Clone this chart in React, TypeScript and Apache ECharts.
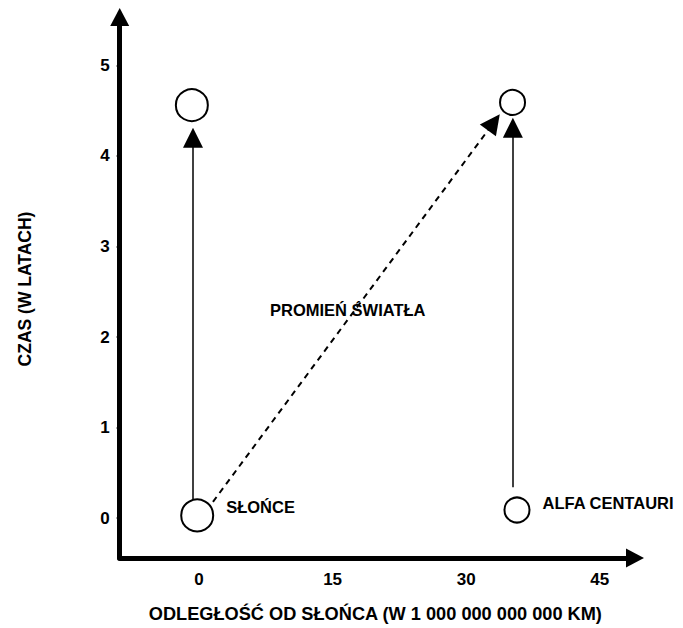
import React, { useEffect, useRef } from "react";
import * as echarts from "echarts";

// ---- data ----
const xTickValues = [0, 15, 30, 45];
const yTickValues = [0, 1, 2, 3, 4, 5];
const xTitle = "ODLEGŁOŚĆ OD SŁOŃCA (W 1 000 000 000 000 KM)";
const yTitle = "CZAS (W LATACH)";

const bodyNames = ["SŁOŃCE", "ALFA CENTAURI"];
const startDistance = [-0.2, 35.7];
const startTime = [0.03, 0.09];
const endDistance = [-0.8, 35.2];
const endTime = [4.56, 4.59];
const bodySize = [32, 25];

const worldlineX = [-0.67, 35.24];
const worldlineFrom = [0.21, 0.34];
const worldlineTo = [4.2, 4.31];

const rayLabel = "PROMIEŃ ŚWIATŁA";
const rayFrom = [1.57, 0.18];
const rayTo = [33.1, 4.37];
const rayLabelAt = [16.7, 2.3];

const FONT = "'Liberation Sans', Arial, Helvetica, sans-serif";

export default function App() {
  const ref = useRef<HTMLDivElement>(null);

  useEffect(() => {
    if (!ref.current) return;
    const chart = echarts.init(ref.current, undefined, { renderer: "svg" });

    const startPoints = bodyNames.map((name, i) => ({
      name,
      value: [startDistance[i], startTime[i]],
      symbolSize: bodySize[i],
      label: {
        show: true,
        position: "right",
        offset: i === 0 ? [7, -8] : [7, -7],
        formatter: name,
      },
    }));
    const endPoints = bodyNames.map((name, i) => ({
      name,
      value: [endDistance[i], endTime[i]],
      symbolSize: bodySize[i],
    }));
    const worldlines = bodyNames.map((name, i) => ({
      name,
      coords: [
        [worldlineX[i], worldlineFrom[i]],
        [worldlineX[i], worldlineTo[i]],
      ],
    }));

    const axisText = { color: "#000", fontFamily: FONT, fontWeight: "bold" as const };

    chart.setOption({
      animation: false,
      backgroundColor: "#fff",
      grid: {
        left: 119.7,
        right: 52,
        top: 20,
        bottom: 70,
        containLabel: false,
        outerBoundsMode: "none",
      },
      xAxis: {
        type: "value",
        min: -8.9,
        max: 48.5,
        name: xTitle,
        nameLocation: "middle",
        nameGap: 47,
        nameTextStyle: { ...axisText, fontSize: 18.2 },
        axisLine: {
          show: true,
          onZero: false,
          lineStyle: { color: "#000", width: 5 },
          symbol: ["none", "triangle"],
          symbolSize: [19, 18],
          symbolOffset: [0, 4],
        },
        axisTick: { show: true, customValues: xTickValues, length: 3, lineStyle: { color: "#000", width: 2 } },
        axisLabel: { show: true, customValues: xTickValues, margin: 13, fontSize: 17, ...axisText },
        splitLine: { show: false },
      },
      yAxis: {
        type: "value",
        min: -0.44,
        max: 5.5,
        name: yTitle,
        nameLocation: "middle",
        nameRotate: 90,
        nameGap: 86,
        nameTextStyle: { ...axisText, fontSize: 17.5 },
        axisLine: {
          show: true,
          onZero: false,
          lineStyle: { color: "#000", width: 5 },
          symbol: ["none", "triangle"],
          symbolSize: [19, 18],
          symbolOffset: [0, 3],
        },
        axisTick: { show: true, customValues: yTickValues, length: 3, lineStyle: { color: "#000", width: 2 } },
        axisLabel: { show: true, customValues: yTickValues, margin: 10, fontSize: 17, ...axisText },
        splitLine: { show: false },
      },
      series: [
        {
          type: "lines",
          coordinateSystem: "cartesian2d",
          data: worldlines,
          symbol: ["none", "triangle"],
          symbolSize: 20,
          lineStyle: { color: "#000", width: 1.5, opacity: 1, curveness: 0 },
          z: 2,
        },
        {
          type: "lines",
          coordinateSystem: "cartesian2d",
          data: [{ name: rayLabel, coords: [rayFrom, rayTo] }],
          symbol: ["none", "triangle"],
          symbolSize: 20,
          lineStyle: { color: "#000", width: 2, opacity: 1, type: [6, 5], curveness: 0 },
          z: 2,
        },
        {
          type: "scatter",
          data: startPoints,
          symbol: "circle",
          itemStyle: { color: "#fff", borderColor: "#000", borderWidth: 2, opacity: 1 },
          label: { color: "#000", fontFamily: FONT, fontSize: 16.5, fontWeight: "bold" },
          z: 3,
        },
        {
          type: "scatter",
          data: endPoints,
          symbol: "circle",
          itemStyle: { color: "#fff", borderColor: "#000", borderWidth: 2, opacity: 1 },
          z: 3,
        },
        {
          type: "scatter",
          data: [{ name: rayLabel, value: rayLabelAt }],
          symbolSize: 0,
          itemStyle: { opacity: 1 },
          label: {
            show: true,
            position: [0, 0],
            align: "center",
            verticalAlign: "middle",
            formatter: rayLabel,
            color: "#000",
            fontFamily: FONT,
            fontSize: 16.5,
            fontWeight: "bold",
          },
          z: 4,
        },
      ],
    });

    return () => chart.dispose();
  }, []);

  return (
    <div
      ref={ref}
      style={{ position: "absolute", left: 0, top: 0, width: 683, height: 628, background: "#fff" }}
    />
  );
}
